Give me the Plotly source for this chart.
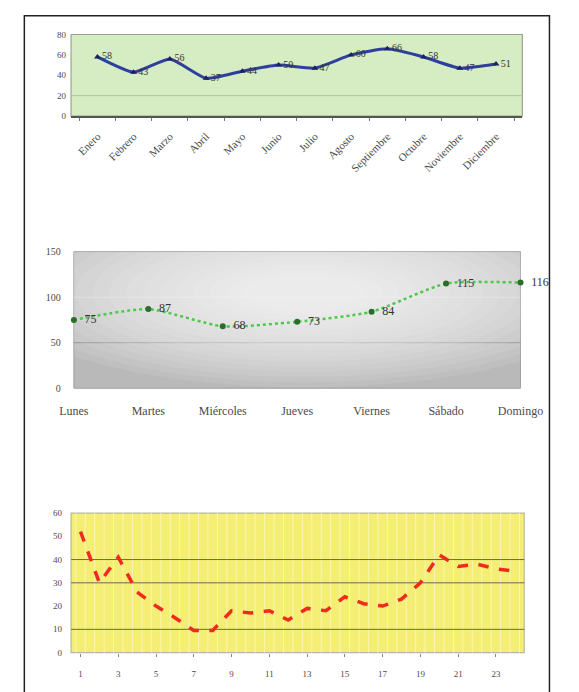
import plotly.graph_objects as go

# ---- data ----
months = ["Enero", "Febrero", "Marzo", "Abril", "Mayo", "Junio", "Julio",
          "Agosto", "Septiembre", "Octubre", "Noviembre", "Diciembre"]
month_vals = [58, 43, 56, 37, 44, 50, 47, 60, 66, 58, 47, 51]

days = ["Lunes", "Martes", "Miércoles", "Jueves", "Viernes", "Sábado", "Domingo"]
day_vals = [75, 87, 68, 73, 84, 115, 116]

hours = list(range(1, 25))
hour_vals = [52, 30, 41, 26, 20, 15, 9.5, 9.5, 18, 17, 18, 14,
             19, 18, 24, 21, 20, 23, 30, 42, 37, 38, 36, 35]
hour_ticks = list(range(1, 24, 2))

W, H = 579, 692
SERIF = "Liberation Serif"
TXT = "#4a4a4a"


def xdom(left, right):
    return [left / W, right / W]


def ydom(top, bottom):
    return [1 - bottom / H, 1 - top / H]


fig = go.Figure()

# top panel: monthly series
fig.add_trace(go.Scatter(
    x=months, y=month_vals, xaxis="x", yaxis="y",
    mode="lines+markers+text",
    line=dict(color="#2f3f9e", width=3, shape="spline", smoothing=0.5),
    marker=dict(symbol="triangle-up", size=6, color="#1c2260"),
    text=[str(v) for v in month_vals], textposition="middle right",
    textfont=dict(family=SERIF, size=10, color="#333333"),
    cliponaxis=False, showlegend=False,
))

# middle panel: weekday series
fig.add_trace(go.Scatter(
    x=days, y=day_vals, xaxis="x2", yaxis="y2",
    mode="lines+markers+text",
    line=dict(color="#4cc94c", width=2.5, dash="dot", shape="spline", smoothing=0.6),
    marker=dict(symbol="circle", size=6, color="#2b6e2b"),
    text=["  " + str(v) for v in day_vals], textposition="middle right",
    textfont=dict(family=SERIF, size=12, color="#333333"),
    cliponaxis=False, showlegend=False,
))

# bottom panel: hourly series
fig.add_trace(go.Scatter(
    x=hours, y=hour_vals, xaxis="x3", yaxis="y3",
    mode="lines",
    line=dict(color="#f02a1e", width=3.5, dash="dash"),
    showlegend=False,
))

fig.update_layout(
    width=W, height=H,
    margin=dict(l=0, r=0, t=0, b=0),
    paper_bgcolor="white",
    plot_bgcolor="rgba(0,0,0,0)",
    xaxis=dict(domain=xdom(60, 543), anchor="y", type="category",
               tickangle=-45, tickfont=dict(family=SERIF, size=11, color=TXT),
               ticklabelstandoff=8,
               showgrid=False, zeroline=False, showline=True,
               linecolor="#555555", linewidth=1.5, mirror=False,
               ticks="outside", ticklen=3, tickcolor="#777", tickson="boundaries"),
    yaxis=dict(domain=ydom(29, 112), anchor="x", range=[0, 80], dtick=20,
               tickfont=dict(family=SERIF, size=9, color=TXT), ticklabelstandoff=4,
               showgrid=False, zeroline=False, showline=False, ticks=""),
    xaxis2=dict(domain=xdom(63, 541), anchor="y2", type="category",
                range=[0, 6], tickfont=dict(family=SERIF, size=12, color=TXT),
                ticklabelstandoff=14,
                showgrid=False, zeroline=False, showline=False, ticks=""),
    yaxis2=dict(domain=ydom(250, 389), anchor="x2", range=[0, 150], dtick=50,
                tickfont=dict(family=SERIF, size=10, color=TXT), ticklabelstandoff=12,
                showgrid=False, zeroline=False, showline=False, ticks=""),
    xaxis3=dict(domain=xdom(60, 545), anchor="y3", range=[0.5, 24.5],
                tickvals=hour_ticks, tickfont=dict(family=SERIF, size=9, color=TXT),
                ticklabelstandoff=10,
                showgrid=False, zeroline=False, showline=False,
                ticks="outside", ticklen=3, tickcolor="#888"),
    yaxis3=dict(domain=ydom(516, 658), anchor="x3", range=[0, 60], dtick=10,
                tickfont=dict(family=SERIF, size=9, color=TXT), ticklabelstandoff=8,
                showgrid=False, zeroline=False, showline=False, ticks=""),
)

shapes = []

# outer frame
shapes.append(dict(type="rect", xref="paper", yref="paper",
                   x0=10 / W, x1=572 / W, y0=-0.05, y1=1 - 10 / H,
                   line=dict(color="#222222", width=1.5), fillcolor="rgba(0,0,0,0)",
                   layer="above"))

# top panel background and gridline
shapes.append(dict(type="rect", xref="x domain", yref="y domain", x0=0, x1=1, y0=0, y1=1,
                   fillcolor="#d6ecc2", line=dict(color="#9aa58f", width=1.2), layer="below"))
shapes.append(dict(type="line", xref="x domain", yref="y", x0=0, x1=1, y0=20, y1=20,
                   line=dict(color="#a9c59a", width=1), layer="below"))

# middle panel: grey background with a soft light centre
shapes.append(dict(type="rect", xref="x2 domain", yref="y2 domain", x0=0, x1=1, y0=0, y1=1,
                   fillcolor="#b9b9b9", line=dict(color="#a0a0a0", width=1), layer="below"))
n_rings = 16
for i in range(n_rings):
    f = 1 - i / n_rings
    rx, ry = 0.6 + 3.6 * f, 14 + 90 * f
    shapes.append(dict(type="circle", xref="x2", yref="y2",
                       x0=3.1 - rx, x1=3.1 + rx, y0=105 - ry, y1=105 + ry,
                       fillcolor="white", opacity=0.085, line=dict(width=0),
                       layer="below"))
shapes.append(dict(type="line", xref="x2 domain", yref="y2", x0=0, x1=1, y0=50, y1=50,
                   line=dict(color="#858585", width=1), layer="below"))
shapes.append(dict(type="line", xref="x2 domain", yref="y2", x0=0, x1=1, y0=100, y1=100,
                   line=dict(color="#cfcfcf", width=1), layer="below"))

# bottom panel: yellow background with faint vertical striping and gridlines
shapes.append(dict(type="rect", xref="x3 domain", yref="y3 domain", x0=0, x1=1, y0=0, y1=1,
                   fillcolor="#f5ee74", line=dict(color="#b8b8a0", width=1.2), layer="below"))
for h in hours:
    for off in (-0.25, 0.25):
        shapes.append(dict(type="line", xref="x3", yref="y3 domain",
                           x0=h + off, x1=h + off, y0=0, y1=1,
                           line=dict(color="#f9f5b0", width=1), layer="below"))
for g in (10, 30, 40):
    shapes.append(dict(type="line", xref="x3 domain", yref="y3", x0=0, x1=1, y0=g, y1=g,
                       line=dict(color="#6a6a50", width=1), layer="below"))

fig.update_layout(shapes=shapes)

fig.write_html("out.html")
